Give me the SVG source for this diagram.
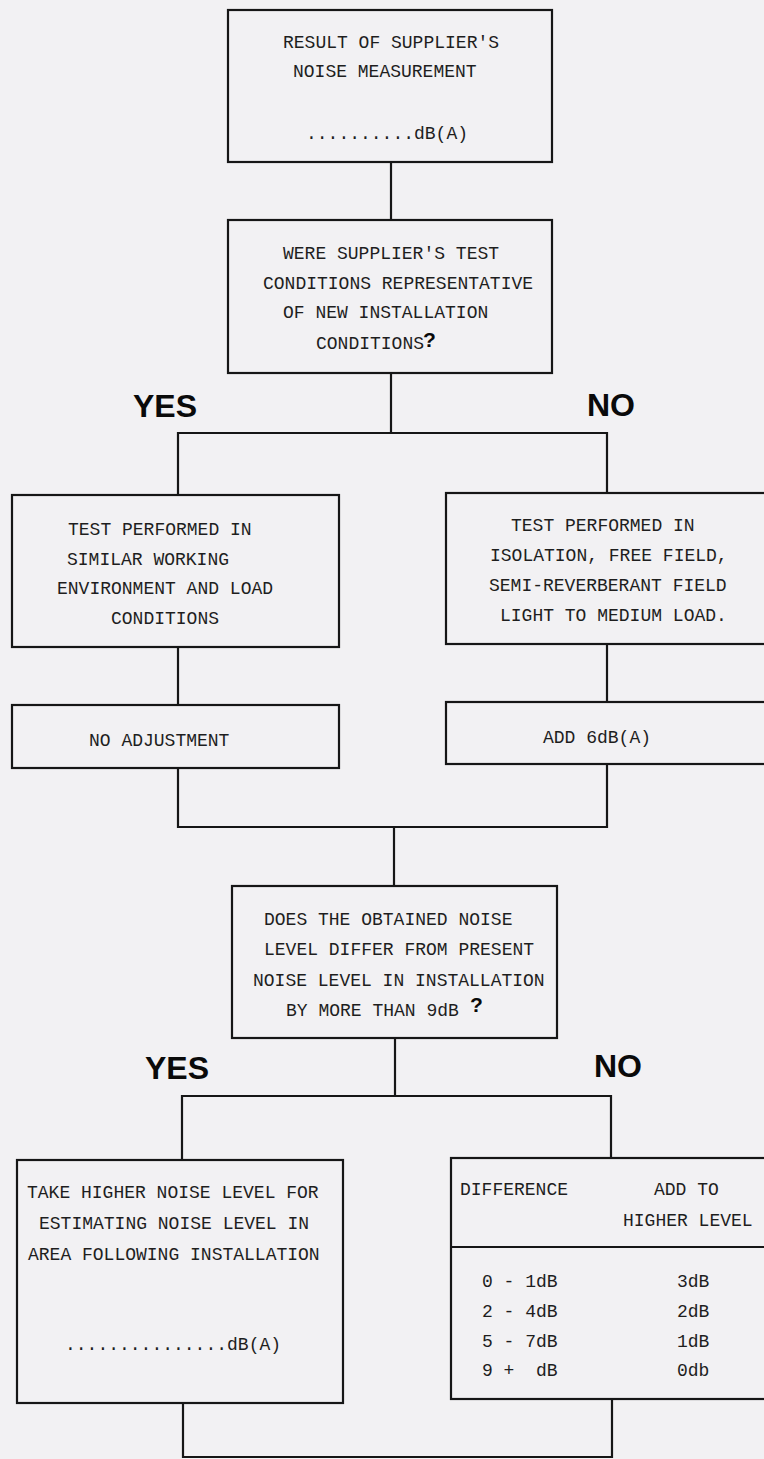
<svg xmlns="http://www.w3.org/2000/svg" width="764" height="1459" viewBox="0 0 764 1459">
<style>
.box{fill:none;stroke:#161616;stroke-width:2.2}
.ln{fill:none;stroke:#161616;stroke-width:2.2}
.t{font-family:"Liberation Mono","Courier New",monospace;font-size:18px;fill:#1e1e1e}
.lab{font-family:"Liberation Sans",Arial,sans-serif;font-weight:bold;font-size:32px;fill:#0a0a0a}
.q{font-family:"Liberation Sans",Arial,sans-serif;font-weight:bold;font-size:21px;fill:#0a0a0a}
</style>
<rect x="0" y="0" width="764" height="1459" fill="#f2f1f3"/>
<g id="connectors">
<line class="ln" x1="391" y1="162" x2="391" y2="220"/>
<polyline class="ln" points="178,494 178,433 607,433 607,493"/>
<line class="ln" x1="391" y1="373" x2="391" y2="433"/>
<line class="ln" x1="178" y1="647" x2="178" y2="705"/>
<line class="ln" x1="607" y1="644" x2="607" y2="702"/>
<polyline class="ln" points="178,768 178,827 607,827 607,764"/>
<line class="ln" x1="394" y1="827" x2="394" y2="886"/>
<line class="ln" x1="395" y1="1038" x2="395" y2="1096"/>
<polyline class="ln" points="182,1160 182,1096 611,1096 611,1158"/>
<polyline class="ln" points="183,1403 183,1457 612,1457 612,1399"/>
</g>
<g id="labels">
<text class="lab" x="133" y="417">YES</text>
<text class="lab" x="587" y="416">NO</text>
<text class="lab" x="145" y="1079">YES</text>
<text class="lab" x="594" y="1077">NO</text>
</g>
<g id="n1">
<rect class="box" x="228" y="10" width="324" height="152"/>
<text class="t" x="283" y="48">RESULT OF SUPPLIER'S</text>
<text class="t" x="293" y="77">NOISE MEASUREMENT</text>
<text class="t" x="306" y="139">..........dB(A)</text>
</g>
<g id="n2">
<rect class="box" x="228" y="220" width="324" height="153"/>
<text class="t" x="283" y="259">WERE SUPPLIER'S TEST</text>
<text class="t" x="263" y="289">CONDITIONS REPRESENTATIVE</text>
<text class="t" x="283" y="318">OF NEW INSTALLATION</text>
<text class="t" x="316" y="349">CONDITIONS</text>
<text class="q" x="423" y="347">?</text>
</g>
<g id="n3">
<rect class="box" x="12" y="495" width="327" height="152"/>
<text class="t" x="68" y="535">TEST PERFORMED IN</text>
<text class="t" x="67" y="565">SIMILAR WORKING</text>
<text class="t" x="57" y="594">ENVIRONMENT AND LOAD</text>
<text class="t" x="111" y="624">CONDITIONS</text>
</g>
<g id="n4">
<rect class="box" x="446" y="493" width="330" height="151"/>
<text class="t" x="511" y="531">TEST PERFORMED IN</text>
<text class="t" x="490" y="561">ISOLATION, FREE FIELD,</text>
<text class="t" x="489" y="591">SEMI-REVERBERANT FIELD</text>
<text class="t" x="500" y="621">LIGHT TO MEDIUM LOAD.</text>
</g>
<g id="n5">
<rect class="box" x="12" y="705" width="327" height="63"/>
<text class="t" x="89" y="746">NO ADJUSTMENT</text>
</g>
<g id="n6">
<rect class="box" x="446" y="702" width="330" height="62"/>
<text class="t" x="543" y="743">ADD 6dB(A)</text>
</g>
<g id="n7">
<rect class="box" x="232" y="886" width="325" height="152"/>
<text class="t" x="264" y="925">DOES THE OBTAINED NOISE</text>
<text class="t" x="264" y="955">LEVEL DIFFER FROM PRESENT</text>
<text class="t" x="253" y="986">NOISE LEVEL IN INSTALLATION</text>
<text class="t" x="286" y="1016">BY MORE THAN 9dB</text>
<text class="q" x="470" y="1012">?</text>
</g>
<g id="n8">
<rect class="box" x="17" y="1160" width="326" height="243"/>
<text class="t" x="27" y="1198">TAKE HIGHER NOISE LEVEL FOR</text>
<text class="t" x="39" y="1229">ESTIMATING NOISE LEVEL IN</text>
<text class="t" x="28" y="1260">AREA FOLLOWING INSTALLATION</text>
<text class="t" x="65" y="1350">...............dB(A)</text>
</g>
<g id="n9">
<rect class="box" x="451" y="1158" width="325" height="241"/>
<line class="ln" x1="451" y1="1247" x2="776" y2="1247"/>
<text class="t" x="460" y="1195">DIFFERENCE</text>
<text class="t" x="654" y="1195">ADD TO</text>
<text class="t" x="623" y="1226">HIGHER LEVEL</text>
<text class="t" x="482" y="1287" xml:space="preserve">0 - 1dB</text>
<text class="t" x="482" y="1317" xml:space="preserve">2 - 4dB</text>
<text class="t" x="482" y="1347" xml:space="preserve">5 - 7dB</text>
<text class="t" x="482" y="1376" xml:space="preserve">9 +  dB</text>
<text class="t" x="677" y="1287">3dB</text>
<text class="t" x="677" y="1317">2dB</text>
<text class="t" x="677" y="1347">1dB</text>
<text class="t" x="677" y="1376">0db</text>
</g>
</svg>
